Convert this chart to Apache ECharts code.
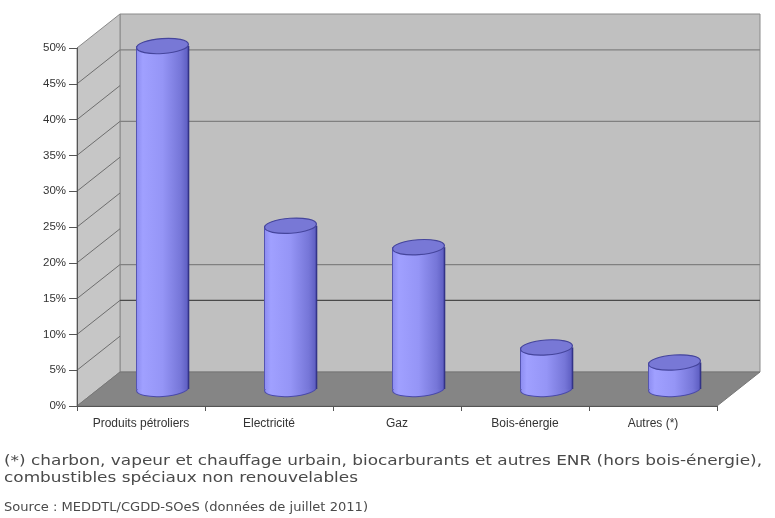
<!DOCTYPE html>
<html>
<head>
<meta charset="utf-8">
<script src="https://cdn.jsdelivr.net/npm/echarts@6/dist/echarts.min.js"></script>
<style>
html,body{margin:0;padding:0;background:#fff;}
#chart{width:775px;height:518px;}
</style>
</head>
<body>
<div id="chart"></div>
<script>
// ---- data ----
var categories = ['Produits pétroliers', 'Electricité', 'Gaz', 'Bois-énergie', 'Autres (*)'];
var values = [47.9, 22.8, 19.8, 5.8, 3.7];
var yMax = 50;
var yInterval = 5;
var wallLineValues = [5, 10, 15, 20, 25, 30, 35, 40, 45];
var backGridValues = [45, 35, 15];
var backGridDarkValues = [10];
var footnoteLine1 = '(*) charbon, vapeur et chauffage urbain, biocarburants et autres ENR (hors bois-énergie),';
var footnoteLine2 = 'combustibles spéciaux non renouvelables';
var source = 'Source : MEDDTL/CGDD-SOeS (données de juillet 2011)';

// ---- style constants ----
var DX = 43, DY = -34;   // depth offset of the 3D box
var NOTE_FAMILY = 'DejaVu Sans';
var NOTE_COLOR = '#4a4a4a';

var chart = echarts.init(document.getElementById('chart'));

function frameRender(params, api) {
  var cs = params.coordSys;
  var x0 = cs.x, x1 = cs.x + cs.width;
  var yTop = api.coord([0, yMax])[1];
  var yBot = api.coord([0, 0])[1];
  var ch = [];
  ch.push({type:'rect', shape:{x:x0+DX, y:yTop+DY, width:x1-x0, height:yBot-yTop},
    style:{fill:'#c0c0c0', stroke:'#8a8a8a', lineWidth:1}});
  ch.push({type:'polygon', shape:{points:[[x0,yTop],[x0+DX,yTop+DY],[x0+DX,yBot+DY],[x0,yBot]]},
    style:{fill:'#c6c6c6', stroke:'#8a8a8a', lineWidth:1}});
  ch.push({type:'polygon', shape:{points:[[x0,yBot],[x0+DX,yBot+DY],[x1+DX,yBot+DY],[x1,yBot]]},
    style:{fill:'#858585', stroke:'#777', lineWidth:1}});
  wallLineValues.forEach(function(v){
    var y = api.coord([0, v])[1];
    ch.push({type:'line', shape:{x1:x0, y1:y, x2:x0+DX, y2:y+DY},
      style:{stroke:'#6e6e6e', lineWidth:1}});
  });
  backGridValues.forEach(function(v){
    var y = api.coord([0, v])[1] + DY;
    ch.push({type:'line', shape:{x1:x0+DX, y1:y, x2:x1+DX, y2:y},
      style:{stroke:'#808080', lineWidth:1.2}});
  });
  backGridDarkValues.forEach(function(v){
    var y = api.coord([0, v])[1] + DY;
    ch.push({type:'line', shape:{x1:x0+DX, y1:y, x2:x1+DX, y2:y},
      style:{stroke:'#4a4a4a', lineWidth:1.4}});
  });
  return {type:'group', children:ch};
}

function cylRender(params, api) {
  var i = api.value(0), v = api.value(1);
  var top = api.coord([i, v]);
  var bot = api.coord([i, 0]);
  var cx = top[0] + DX/2;
  var ty = top[1] + DY/2;
  var by = bot[1] + DY/2;
  var rx = 26, ry = 7.5, rot = 0.07;
  var grad = {type:'linear', x:0, y:0, x2:1, y2:0, colorStops:[
    {offset:0, color:'#8c8cf0'},
    {offset:0.12, color:'#a0a0ff'},
    {offset:0.5, color:'#9595f6'},
    {offset:0.85, color:'#7676d8'},
    {offset:1, color:'#5c5cc0'}]};
  return {type:'group', children:[
    {type:'ellipse', x:cx, y:by, rotation:rot, shape:{cx:0, cy:0, rx:rx, ry:ry},
      style:{fill:grad, stroke:'#4a4aa8', lineWidth:1}},
    {type:'rect', shape:{x:cx-rx, y:ty, width:2*rx, height:Math.max(by-ty,0)},
      style:{fill:grad}},
    {type:'line', shape:{x1:cx-rx, y1:ty, x2:cx-rx, y2:by}, style:{stroke:'#5555b0', lineWidth:1}},
    {type:'line', shape:{x1:cx+rx, y1:ty, x2:cx+rx, y2:by}, style:{stroke:'#333388', lineWidth:1.6}},
    {type:'ellipse', x:cx, y:ty, rotation:rot, shape:{cx:0, cy:0, rx:rx, ry:ry},
      style:{fill:'#7878d6', stroke:'#45459c', lineWidth:1.2}}
  ]};
}

// text stretched horizontally to span a given width (the reference image is stretched)
var measureCtx = document.createElement('canvas').getContext('2d');
function textWidth(text, size) {
  measureCtx.font = size + 'px "' + NOTE_FAMILY + '"';
  return measureCtx.measureText(text).width;
}
function fittedText(text, size, left, y, scale) {
  return {type:'text', x:left, y:y, scaleX:scale, scaleY:1,
    style:{text:text, fontSize:size, fontFamily:NOTE_FAMILY, fill:NOTE_COLOR,
      verticalAlign:'middle', align:'left'}};
}
var NOTE_SIZE = 13.5;
var noteScale = (762 - 4) / textWidth(footnoteLine1, NOTE_SIZE);
var SRC_SIZE = 13;
var srcScale = (368 - 4) / textWidth(source, SRC_SIZE);
var noteEls = [
  fittedText(footnoteLine1, NOTE_SIZE, 4, 461, noteScale),
  fittedText(footnoteLine2, NOTE_SIZE, 4, 478, noteScale),
  fittedText(source, SRC_SIZE, 4, 508, srcScale)
];

var option = {
  animation: false,
  backgroundColor: '#fff',
  graphic: noteEls,
  grid: {left: 77, top: 48, width: 640, height: 358, containLabel: false},
  xAxis: {
    type: 'category', data: categories, z: 5,
    axisLine: {show: true, lineStyle: {color: '#555', width: 1}},
    axisTick: {show: true, length: 5, lineStyle: {color: '#555'}},
    axisLabel: {margin: 12, fontSize: 12, color: '#333', fontFamily: 'Liberation Sans, Arial', interval: 0},
    splitLine: {show: false}
  },
  yAxis: {
    type: 'value', min: 0, max: yMax, interval: yInterval, z: 5,
    axisLine: {show: true, lineStyle: {color: '#555', width: 1}},
    axisTick: {show: true, length: 8, lineStyle: {color: '#555'}},
    axisLabel: {margin: 11, fontSize: 11.5, color: '#333', fontFamily: 'Liberation Sans, Arial', formatter: '{value}%'},
    splitLine: {show: false}
  },
  series: [
    {type: 'custom', name: 'frame', z: 1, silent: true, renderItem: frameRender,
     data: [[0, 0]], clip: false},
    {type: 'custom', name: 'cylindres', z: 10, renderItem: cylRender, clip: false,
     data: values.map(function(v, i){ return [i, v]; })}
  ]
};
chart.setOption(option);
</script>
</body>
</html>
